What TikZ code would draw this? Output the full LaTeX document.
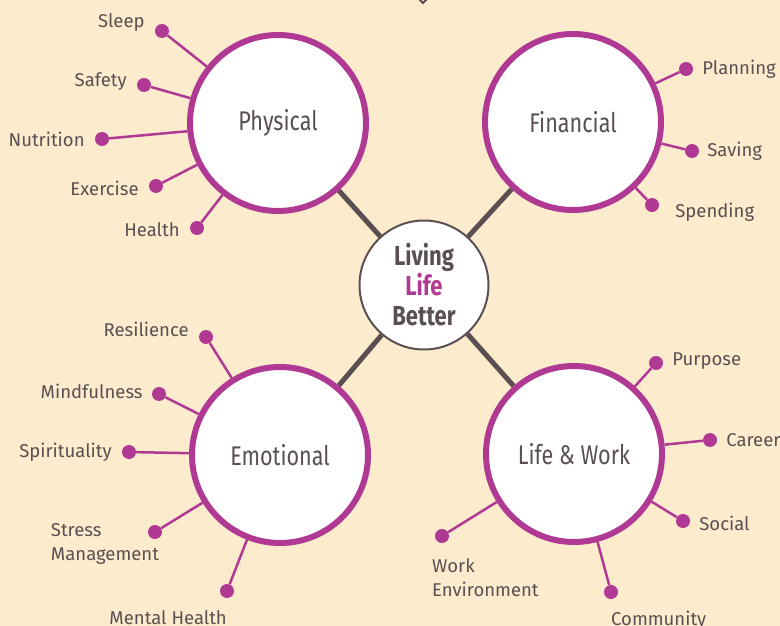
\documentclass[tikz,border=0pt]{standalone}
\usepackage{fontspec}
\setmainfont{Fira Sans}
\newfontfamily\narrowfont[FakeStretch=0.8]{Fira Sans}
\usetikzlibrary{positioning,calc}
\pgfdeclarelayer{bg}
\pgfsetlayers{bg,main}
\definecolor{cream}{RGB}{253,235,205}
\definecolor{plum}{RGB}{176,58,147}
\definecolor{ink}{RGB}{90,80,82}

\begin{document}
\begin{tikzpicture}[
x = 1pt, y = -1pt,
node distance = 10pt,
every node/.style = {
	text = ink
},
topic/.style = {
	circle,
	draw = plum,
	line width = 6pt,
	fill = white,
	minimum size = 176pt,
	font = \narrowfont\fontsize{27}{30}\selectfont
},
hub/.style = {
	circle,
	draw = ink,
	line width = 2pt,
	fill = white,
	minimum size = 129pt,
	align = center,
	font = \narrowfont\bfseries\fontsize{27.5}{30}\selectfont
},
dot/.style = {
	circle,
	fill = plum,
	inner sep = 0pt,
	minimum size = 14pt
},
spoke/.style = {
	draw = plum,
	line width = 2.5pt
},
link/.style = {
	draw = ink,
	line width = 5pt
},
tag/.style = {
	inner sep = 0pt,
	font = \fontsize{18.5}{24}\selectfont
}
]

\begin{pgfonlayer}{bg}
\fill[cream] (0,0) rectangle (780,626);
\end{pgfonlayer}
\useasboundingbox (0,0) rectangle (780,626);

\node (tip) [draw=ink, line width=2pt, rotate=45, minimum size=7pt, inner sep=0pt] at (423,-2) {};

\node (hub) [hub] at (424,285) {Living\\\textcolor{plum}{Life}\\Better};

\node (phys) [topic] at (278,123) {Physical};
\node (fin) [topic] at (573,122) {Financial};
\node (emo) [topic] at (280,455) {Emotional};
\node (lw) [topic] at (574,454) {Life \& Work};

\begin{pgfonlayer}{bg}
\draw[link] (hub) -- (phys);
\draw[link] (hub) -- (fin);
\draw[link] (hub) -- (emo);
\draw[link] (hub) -- (lw);
\end{pgfonlayer}

% physical
\node (sleep) [dot] at (162,31) {};
\node [tag, left = of sleep, yshift=8pt] {Sleep};
\node (safety) [dot] at (144,85) {};
\node [tag, left = of safety, yshift=3pt] {Safety};
\node (nutri) [dot] at (102,139) {};
\node [tag, left = of nutri] {Nutrition};
\node (exer) [dot] at (156,186) {};
\node [tag, left = of exer, yshift=-2pt] {Exercise};
\node (health) [dot] at (197,228) {};
\node [tag, left = of health, yshift=-2pt] {Health};

% financial
\node (plan) [dot] at (686,69) {};
\node [tag, right = 9pt of plan] {Planning};
\node (save) [dot] at (692,151) {};
\node [tag, right = 8pt of save] {Saving};
\node (spend) [dot] at (652,205) {};
\node [tag, right = 16pt of spend, yshift=-7pt] {Spending};

% emotional
\node (resil) [dot] at (206,337) {};
\node [tag, left = of resil, yshift=8pt] {Resilience};
\node (mind) [dot] at (159,394) {};
\node [tag, left = 9pt of mind, yshift=3pt] {Mindfulness};
\node (spirit) [dot] at (129,452) {};
\node [tag, left = of spirit] {Spirituality};
\node (stress) [dot] at (155,532) {};
\node [tag, align=left, anchor=north east, yshift=9pt, xshift=-3pt] at (stress.east) {Stress\\Management};
\node (mental) [dot] at (227,591) {};
\node [tag, below = 12pt of mental, anchor=north east] {Mental Health};

% life and work
\node (purp) [dot] at (656,363) {};
\node [tag, right = 9pt of purp, yshift=2pt] {Purpose};
\node (career) [dot] at (710,440) {};
\node [tag, right = 9pt of career] {Career};
\node (social) [dot] at (683,521) {};
\node [tag, right = 9pt of social, yshift=-2pt] {Social};
\node (workenv) [dot] at (442,536) {};
\node [tag, align=left, below = 15pt of workenv, anchor=north west, xshift=-10pt] {Work\\Environment};
\node (comm) [dot] at (611,592) {};
\node [tag, below = 12pt of comm, anchor=north west] {Community};

\begin{pgfonlayer}{bg}
\foreach \d in {sleep,safety,nutri,exer,health}
	\draw[spoke] (\d) -- (phys);
\foreach \d in {plan,save,spend}
	\draw[spoke] (\d) -- (fin);
\foreach \d in {resil,mind,spirit,stress,mental}
	\draw[spoke] (\d) -- (emo);
\foreach \d in {purp,career,social,workenv,comm}
	\draw[spoke] (\d) -- (lw);
\end{pgfonlayer}

\end{tikzpicture}
\end{document}
